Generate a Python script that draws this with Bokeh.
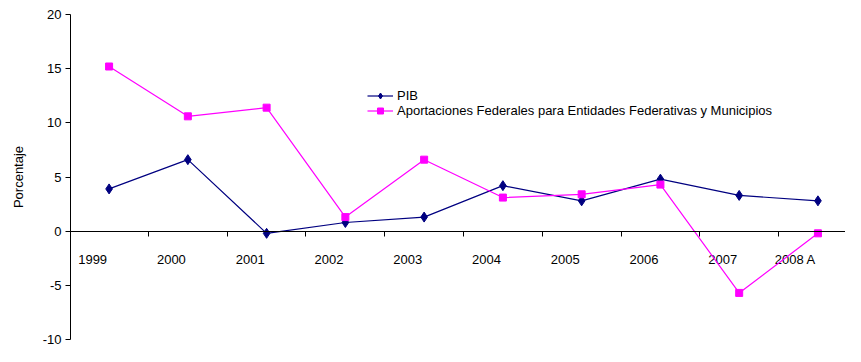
from bokeh.plotting import figure
from bokeh.models import (Range1d, FixedTicker, ColumnDataSource, Legend,
                          LegendItem, LinearAxis)
from bokeh.core.properties import value
from bokeh.embed import file_html
from bokeh.resources import INLINE

# ---- data ----
years = ["1999", "2000", "2001", "2002", "2003", "2004", "2005", "2006", "2007", "2008 A"]
pib = [3.9, 6.6, -0.2, 0.8, 1.3, 4.2, 2.8, 4.8, 3.3, 2.8]
aportaciones = [15.2, 10.6, 11.4, 1.3, 6.6, 3.1, 3.4, 4.3, -5.7, -0.2]
y_ticks = [-10, -5, 0, 5, 10, 15, 20]
series_names = ["PIB", "Aportaciones Federales para Entidades Federativas y Municipios"]
y_title = "Porcentaje"

FONT = "Liberation Sans"
idx = list(range(len(years)))
boundaries = [i + 0.5 for i in idx]
axis_level = 0

src = ColumnDataSource(dict(x=idx, pib=pib, ap=aportaciones, label=years,
                            base=[axis_level] * len(years)))

p = figure(width=845, height=346, output_backend="svg", toolbar_location=None,
           x_range=Range1d(-0.49, 9.35), y_range=Range1d(-10, 20),
           x_axis_location=None, y_axis_location="left",
           min_border_left=70, min_border_right=0, min_border_top=14,
           min_border_bottom=7)
p.outline_line_color = None
p.xgrid.visible = False
p.ygrid.visible = False
p.background_fill_color = "white"
p.border_fill_color = "white"

# y axis
ya = p.yaxis[0]
ya.ticker = FixedTicker(ticks=y_ticks)
ya.major_label_overrides = {t: str(t) for t in y_ticks}
ya.axis_label = y_title
ya.axis_label_text_font = FONT
ya.axis_label_text_font_size = "13px"
ya.axis_label_text_font_style = "normal"
ya.axis_label_text_color = "black"
ya.axis_label_standoff = 14
ya.major_label_text_font = FONT
ya.major_label_text_font_size = "13px"
ya.major_label_text_color = "black"
ya.major_label_standoff = 4
ya.major_tick_out = 5
ya.major_tick_in = 0
ya.minor_tick_out = 0
ya.minor_tick_in = 0
ya.axis_line_color = "black"
ya.major_tick_line_color = "black"

# x axis at y = 0
xa = LinearAxis(fixed_location=axis_level, ticker=FixedTicker(ticks=boundaries))
xa.major_label_text_font_size = "0px"
xa.major_label_text_alpha = 0
xa.major_tick_out = 5
xa.major_tick_in = 0
xa.minor_tick_out = 0
xa.minor_tick_in = 0
xa.axis_line_color = "black"
xa.major_tick_line_color = "black"
p.add_layout(xa, "below")

# category labels (right-aligned, left of each point)
p.text(x="x", y="base", text="label", source=src, text_align="right",
       text_baseline="alphabetic", x_offset=-2, y_offset=28,
       text_font=value(FONT), text_font_size="13px", text_color="black")

navy = "#000080"
magenta = "#FF00FF"
l1 = p.line("x", "pib", source=src, line_color=navy, line_width=1.2)
s1 = p.scatter("x", "pib", source=src, marker="diamond", size=10,
               fill_color=navy, line_color=navy)
l2 = p.line("x", "ap", source=src, line_color=magenta, line_width=1.2)
s2 = p.scatter("x", "ap", source=src, marker="square", size=7,
               fill_color=magenta, line_color=magenta)

legend = Legend(items=[LegendItem(label=series_names[0], renderers=[l1, s1]),
                       LegendItem(label=series_names[1], renderers=[l2, s2])],
                location=(297, 221), orientation="vertical")
legend.border_line_color = None
legend.background_fill_alpha = 0
legend.padding = 0
legend.margin = 0
legend.spacing = 0
legend.glyph_width = 26
legend.glyph_height = 15
legend.label_height = 15
legend.label_standoff = 4
legend.label_text_font = FONT
legend.label_text_font_size = "13px"
legend.label_text_color = "black"
p.add_layout(legend, "center")

open("out.html", "w").write(file_html(p, INLINE))
